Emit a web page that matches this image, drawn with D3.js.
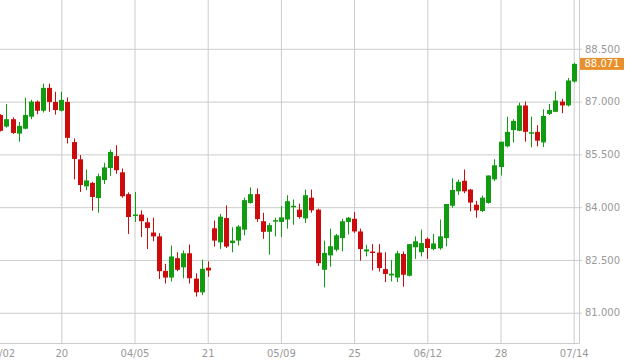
<!DOCTYPE html>
<html>
<head>
<meta charset="utf-8">
<script src="https://cdn.jsdelivr.net/npm/d3@7"></script>
<style>
  body { margin: 0; background: #fff; }
  text { font-family: "DejaVu Sans", Verdana, sans-serif; }
</style>
</head>
<body>
<div id="chart"></div>
<script>
// daily candles, oldest first
const openP = [86.62, 86.29, 86.50, 86.09, 86.23, 86.57, 87.00, 86.74, 87.39, 86.99,
  86.74, 86.99, 85.85, 85.36, 84.59, 84.69, 84.26, 84.77, 85.11, 85.45,
  84.99, 84.37, 83.75, 83.79, 83.57, 83.28, 83.17, 82.19, 82.00, 82.55,
  82.29, 82.69, 81.97, 81.58, 82.28, 83.40, 83.00, 83.69, 82.98, 83.05,
  83.36, 84.12, 84.37, 83.60, 83.30, 83.60, 83.58, 83.65, 84.00, 83.93,
  83.68, 84.27, 83.93, 82.22, 82.63, 82.79, 83.12, 83.58, 83.67, 83.31,
  82.74, 82.74, 82.71, 82.24, 82.06, 82.00, 82.67, 82.05, 82.86, 82.72,
  83.10, 82.81, 82.83, 83.12, 84.04, 84.45, 84.75, 84.50, 84.07, 83.89,
  84.12, 84.79, 85.14, 85.73, 86.19, 86.17, 86.89, 86.10, 86.14, 85.84,
  86.65, 86.71, 87.00, 86.89, 87.57];
const highP = [86.64, 86.93, 86.55, 86.42, 87.11, 87.05, 87.03, 87.51, 87.51, 87.28,
  87.28, 87.12, 85.95, 85.48, 85.07, 84.72, 84.95, 85.26, 85.63, 85.76,
  85.10, 84.42, 84.43, 83.91, 83.70, 83.70, 83.26, 82.39, 82.91, 82.72,
  82.77, 82.94, 82.12, 82.51, 82.46, 83.62, 83.81, 84.05, 83.43, 83.49,
  84.27, 84.56, 84.53, 83.84, 83.55, 83.70, 84.03, 84.34, 84.22, 84.10,
  84.50, 84.50, 83.96, 83.05, 83.39, 83.24, 83.67, 83.72, 83.86, 83.39,
  82.93, 82.95, 82.95, 82.72, 82.50, 82.76, 82.74, 82.95, 83.17, 83.36,
  83.14, 83.24, 83.65, 84.09, 84.82, 84.78, 85.07, 84.52, 84.18, 84.33,
  84.90, 85.36, 85.86, 86.57, 86.50, 86.97, 87.00, 86.57, 86.33, 86.78,
  86.93, 87.29, 87.08, 87.67, 88.10];
const lowP = [86.15, 86.26, 86.08, 85.86, 86.21, 86.50, 86.64, 86.69, 86.71, 86.63,
  86.72, 85.81, 84.79, 84.43, 84.48, 83.90, 83.84, 84.66, 84.89, 84.95,
  84.27, 83.24, 83.58, 83.15, 82.81, 83.03, 81.96, 81.83, 81.89, 82.18,
  81.98, 81.83, 81.46, 81.50, 82.02, 82.88, 82.81, 82.84, 82.72, 82.91,
  83.20, 84.10, 83.58, 83.10, 82.65, 83.17, 83.15, 83.39, 83.50, 83.67,
  83.55, 83.84, 82.33, 81.72, 82.31, 82.74, 82.74, 83.22, 83.27, 82.48,
  82.60, 82.20, 82.17, 81.87, 81.89, 81.87, 81.74, 82.03, 82.53, 82.60,
  82.53, 82.77, 82.79, 82.89, 83.98, 84.35, 84.40, 83.88, 83.70, 83.86,
  84.10, 84.74, 84.90, 85.70, 85.84, 86.16, 85.86, 85.70, 85.73, 85.71,
  86.62, 86.70, 86.67, 86.86, 87.54];
const closeP = [86.17, 86.50, 86.11, 86.31, 86.62, 87.00, 86.74, 87.39, 86.99, 86.76,
  87.05, 85.97, 85.37, 84.63, 84.76, 84.29, 84.88, 85.13, 85.57, 85.05,
  84.31, 83.72, 83.79, 83.60, 83.41, 83.17, 82.18, 82.00, 82.60, 82.22,
  82.69, 81.98, 81.58, 82.25, 82.20, 83.05, 83.73, 82.88, 83.05, 83.45,
  84.20, 84.37, 83.66, 83.30, 83.49, 83.63, 83.71, 84.17, 84.04, 83.72,
  84.34, 83.91, 82.41, 82.70, 82.89, 83.20, 83.60, 83.70, 83.31, 82.81,
  82.80, 82.70, 82.27, 82.10, 82.11, 82.69, 82.08, 82.95, 83.03, 82.98,
  82.84, 82.97, 83.17, 84.09, 84.49, 84.72, 84.45, 84.13, 83.91, 84.27,
  84.90, 85.19, 85.86, 86.14, 86.45, 86.89, 86.14, 86.13, 85.89, 86.59,
  86.76, 87.03, 86.89, 87.60, 88.071];

const tickIdx = [0, 10, 22, 34, 46, 58, 70, 82, 94];
const tickLabels = ["03/02", "20", "04/05", "21", "05/09", "25", "06/12", "28", "07/14"];
const yTicks = [81, 82.5, 84, 85.5, 87, 88.5];
const lastPrice = closeP[closeP.length - 1];

const w = 627, h = 360;
const plotR = 579, plotB = 343;
const up = "#119b11", down = "#cc0c0c", grid = "#cccccc";

const x = d3.scaleLinear().domain([0, openP.length - 1]).range([0.3, 573.7]);
const y = d3.scaleLinear().domain([80.14, 89.887]).range([plotB, 0]);

const svg = d3.select("#chart").append("svg")
  .attr("width", w).attr("height", h);

// horizontal grid
svg.append("g")
  .attr("transform", "translate(582,0)")
  .call(d3.axisLeft(y).tickValues(yTicks).tickSize(582).tickFormat(""))
  .call(g => g.select(".domain").remove())
  .call(g => g.selectAll("line").attr("stroke", grid));

// vertical grid (first tick sits on the edge, no line there)
svg.append("g")
  .attr("transform", `translate(0,${plotB})`)
  .call(d3.axisBottom(x).tickValues(tickIdx.filter(d => x(d) > 2))
    .tickSize(-plotB).tickFormat(""))
  .call(g => g.select(".domain").remove())
  .call(g => g.selectAll("line").attr("stroke", grid));

// frame: bottom line and right border
svg.append("line").attr("x1", 0).attr("x2", plotR + 0.5)
  .attr("y1", plotB + 0.5).attr("y2", plotB + 0.5).attr("stroke", grid);
svg.append("line").attr("x1", plotR + 0.5).attr("x2", plotR + 0.5)
  .attr("y1", 0).attr("y2", plotB + 0.5).attr("stroke", grid);

// x labels
svg.append("g")
  .attr("transform", `translate(0,${plotB})`)
  .call(d3.axisBottom(x).tickValues(tickIdx).tickSize(0).tickPadding(7)
    .tickFormat((d, i) => tickLabels[i]))
  .call(g => g.select(".domain").remove())
  .call(g => g.selectAll("text").attr("fill", "#999").style("font-size", "10px"));

// y labels
svg.append("g")
  .attr("transform", `translate(${plotR},0)`)
  .call(d3.axisRight(y).tickValues(yTicks).tickSize(0).tickPadding(6)
    .tickFormat(d3.format(".3f")))
  .call(g => g.select(".domain").remove())
  .call(g => g.selectAll("text").attr("fill", "#999").style("font-size", "10px"));

// candles
const idx = d3.range(openP.length);
const plot = svg.append("g");
const col = i => (closeP[i] >= openP[i] ? up : down);

plot.selectAll("line.wick").data(idx).enter().append("line")
  .attr("class", "wick")
  .attr("x1", i => Math.round(x(i)) + 0.5).attr("x2", i => Math.round(x(i)) + 0.5)
  .attr("y1", i => y(highP[i])).attr("y2", i => y(lowP[i]))
  .attr("stroke", col);

plot.selectAll("rect").data(idx).enter().append("rect")
  .attr("x", i => Math.round(x(i)) - 2)
  .attr("width", 5)
  .attr("y", i => y(Math.max(openP[i], closeP[i])))
  .attr("height", i => Math.max(1.5, Math.abs(y(openP[i]) - y(closeP[i]))))
  .attr("fill", col);

// last price tag
const ly = y(lastPrice);
svg.append("rect").attr("x", 580).attr("y", ly - 6).attr("width", 44).attr("height", 12)
  .attr("fill", "#e8902c");
svg.append("text").attr("x", 602).attr("y", ly).attr("dy", "0.35em")
  .attr("text-anchor", "middle").attr("fill", "#fff").style("font-size", "10px")
  .text(d3.format(".3f")(lastPrice));
</script>
</body>
</html>
